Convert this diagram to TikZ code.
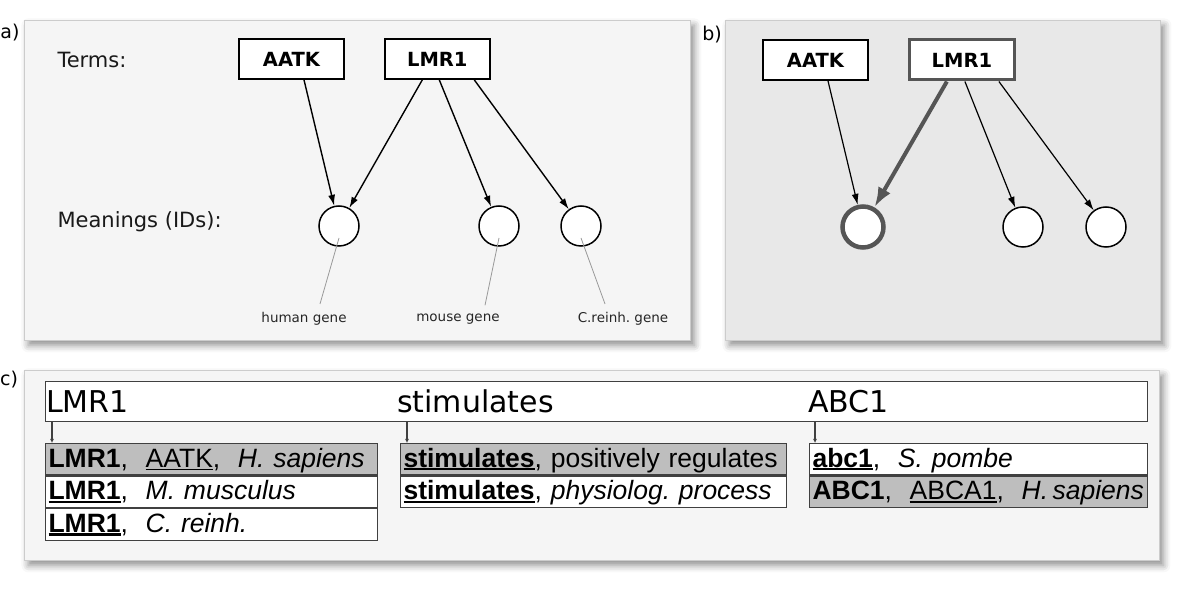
\documentclass[tikz,border=0pt]{standalone}
\usepackage{fontspec}
\setmainfont{DejaVu Sans}
\newfontfamily\rowfont{Liberation Sans}
\usetikzlibrary{positioning, calc, arrows.meta, shadows.blur}
\definecolor{paneltint}{HTML}{F5F5F5}
\definecolor{panelgrey}{HTML}{E8E8E8}
\definecolor{rowgrey}{HTML}{BEBEBE}
\definecolor{hilite}{HTML}{555555}
\frenchspacing
\newcommand{\ulthin}[1]{\setbox0\hbox{#1}\rlap{\rule[-2.6pt]{\wd0}{1.2pt}}\box0}
\newcommand{\ulbold}[1]{\setbox0\hbox{\textbf{#1}}\rlap{\rule[-3pt]{\wd0}{2.2pt}}\box0}

\begin{document}
\begin{tikzpicture}[x=1pt,y=-1pt]
	\tikzstyle{panel}=[draw=black!20, line width=0.8pt, anchor=north west, inner sep=0pt, blur shadow={shadow xshift=4pt, shadow yshift=-5pt, shadow blur radius=7pt, shadow opacity=45}]
\tikzstyle{tag}=[font=\fontsize{19}{22}\selectfont]
\tikzstyle{heading}=[anchor=west, text=black!90, font=\fontsize{21}{25}\selectfont]
\tikzstyle{term}=[draw, line width=1.8pt, fill=white, minimum width=105pt, minimum height=40pt, font=\bfseries\fontsize{19.5}{22}\selectfont]
\tikzstyle{meaning}=[circle, draw, line width=1.5pt, fill=white, minimum size=40pt, inner sep=0pt]
\tikzstyle{gloss}=[text=black!85, font=\fontsize{13.5}{15}\selectfont]
\tikzstyle{pointer}=[draw=black!40, line width=0.8pt]
\tikzstyle{connect}=[-{Latex[length=11pt,width=7pt]}, line width=1.4pt]
\tikzstyle{word}=[anchor=base west, inner sep=0pt, font=\fontsize{30}{34}\selectfont]
\tikzstyle{row}=[draw=black!75, line width=1.1pt, anchor=north west, inner xsep=3pt, inner ysep=0pt, minimum height=31.5pt, text height=21pt, text depth=5pt, align=left, font=\rowfont\fontsize{26.5}{30}\selectfont]
\tikzstyle{link}=[-{Latex[length=4pt,width=4pt]}, line width=1.2pt, draw=black!75]
\useasboundingbox (0,0) rectangle (1200,601);

% a) terms and their meanings
\node[panel, fill=paneltint, minimum width=666pt, minimum height=320pt] (panA) at (24,20) {};
\node[tag] (tagA) at (10,33) {a)};
\node[heading] (terms) at (54,60) {Terms:};
\node[heading] (meanings) at (54,222) {Meanings (IDs):};
\node[term] (aatkA) at (291.5,59) {AATK};
\node[term, right=39pt of aatkA] (lmrA) {LMR1};
\node[meaning] (humA) at (339,226) {};
\node[meaning] (mouA) at (499,226) {};
\node[meaning] (creA) at (581,226) {};
\node[gloss] (humL) at (304,319) {human gene};
\node[gloss] (mouL) at (458,319) {mouse gene};
\node[gloss] (creL) at (623,319) {C.reinh. gene};
\draw[pointer] ([yshift=-12pt]humA.center) -- ([xshift=16pt,yshift=5pt]humL.north);
\draw[pointer] ([yshift=-12pt]mouA.center) -- ([xshift=27pt,yshift=5pt]mouL.north);
\draw[pointer] ([yshift=-12pt]creA.center) -- ([xshift=-18pt,yshift=5pt]creL.north);
\draw[connect] ([xshift=12.5pt]aatkA.south) -- (humA);
\draw[connect] ([xshift=-15pt]lmrA.south) -- (humA);
\draw[connect] ([xshift=2pt]lmrA.south) -- (mouA);
\draw[connect] ([xshift=37pt]lmrA.south) -- (creA);

% b) chosen meaning
\node[panel, fill=panelgrey, minimum width=435pt, minimum height=320pt] (panB) at (725,20) {};
\node[tag] (tagB) at (712,35) {b)};
\node[term] (aatkB) at (815.5,60) {AATK};
\node[term, line width=3pt, draw=hilite, right=39pt of aatkB] (lmrB) {LMR1};
\node[meaning, line width=4.5pt, draw=hilite, minimum size=41pt] (humB) at (863,227) {};
\node[meaning] (mouB) at (1023,227) {};
\node[meaning] (creB) at (1106,227) {};
\draw[connect, line width=1.2pt] ([xshift=12.5pt]aatkB.south) -- (humB);
\draw[-{Latex[length=20pt,width=14pt]}, line width=4pt, draw=hilite] ([xshift=-15pt]lmrB.south) -- (humB);
\draw[connect, line width=1.2pt] ([xshift=3pt]lmrB.south) -- (mouB);
\draw[connect, line width=1.2pt] ([xshift=37pt]lmrB.south) -- (creB);

% c) sentence with candidate entries
\node[panel, fill=paneltint, minimum width=1135pt, minimum height=190pt] (panC) at (24,370) {};
\node[tag] (tagC) at (9,380) {c)};
\node[draw=black!75, line width=1.2pt, fill=white, minimum width=1102pt, minimum height=40pt, anchor=north west, inner sep=0pt] (hdr) at (45,381) {};
\node[word] (wLMR) at (46,413) {LMR1};
\node[word] (wStim) at (397,413) {stimulates};
\node[word] (wABC) at (808,413) {ABC1};

\node[row, fill=rowgrey, text width=326pt] (lmrRowA) at (45,443) {\textbf{LMR1},\ \ \ulthin{AATK},\ \ \textit{H. sapiens}};
\node[row, fill=white, text width=326pt, below=0pt of lmrRowA] (lmrRowB) {\ulbold{LMR1},\ \ \textit{M. musculus}};
\node[row, fill=white, text width=326pt, below=0pt of lmrRowB] (lmrRowC) {\ulbold{LMR1},\ \ \textit{C. reinh.}};

\node[row, fill=rowgrey, text width=380pt] (stimRowA) at (400,443) {\ulbold{stimulates}, positively regulates};
\node[row, fill=white, text width=380pt, below=0pt of stimRowA] (stimRowB) {\ulbold{stimulates}, \textit{physiolog. process}};

\node[row, fill=white, text width=332pt] (abcRowA) at (809,443) {\ulbold{abc1},\ \ \textit{S. pombe}};
\node[row, fill=rowgrey, text width=332pt, below=0pt of abcRowA] (abcRowB) {\textbf{ABC1},\ \ \ulthin{ABCA1},\ \ \textit{H.\,sapiens}};

\draw[link] ($(hdr.south -| lmrRowA.west)+(7,0)$) -- ($(lmrRowA.north west)+(7,0)$);
\draw[link] ($(hdr.south -| stimRowA.west)+(7,0)$) -- ($(stimRowA.north west)+(7,0)$);
\draw[link] ($(hdr.south -| abcRowA.west)+(6,0)$) -- ($(abcRowA.north west)+(6,0)$);
\end{tikzpicture}
\end{document}
